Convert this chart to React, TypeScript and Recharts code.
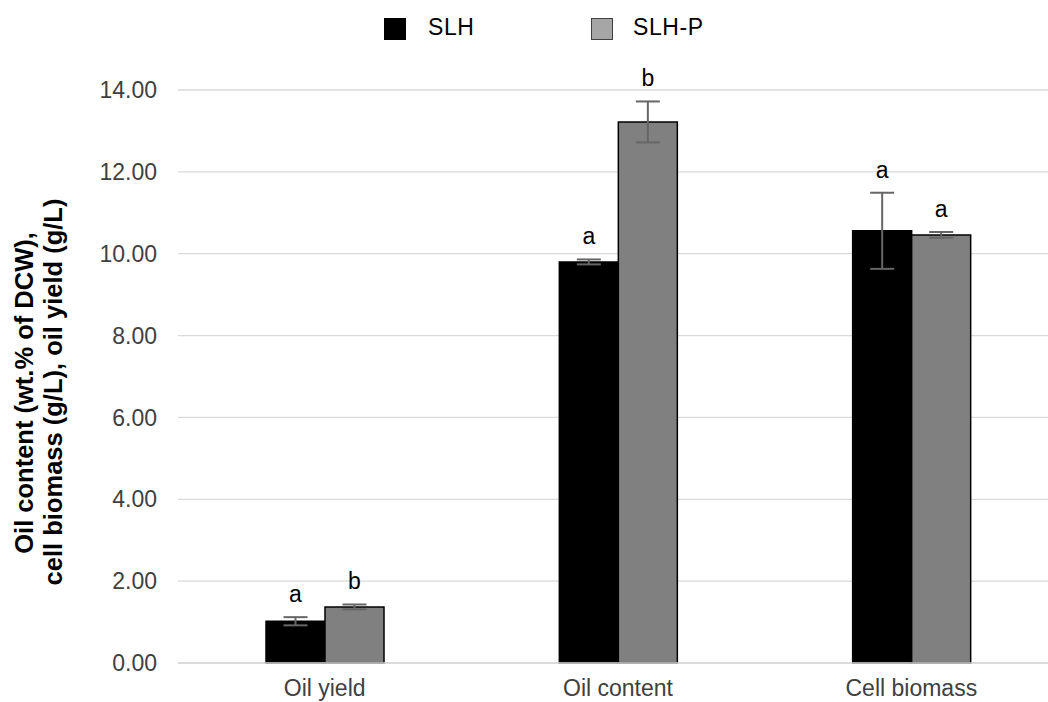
import React from 'react';
import { BarChart, Bar, XAxis, YAxis, CartesianGrid, ErrorBar } from 'recharts';

const categories = ['Oil yield', 'Oil content', 'Cell biomass'];
const slh = [1.02, 9.8, 10.56];
const slhErr = [0.1, 0.06, 0.93];
const slhP = [1.37, 13.22, 10.46];
const slhPErr = [0.06, 0.5, 0.07];
const slhLetters = ['a', 'a', 'a'];
const slhPLetters = ['b', 'b', 'a'];
const yTicks = [0, 2, 4, 6, 8, 10, 12, 14];

const seriesNames = ['SLH', 'SLH-P'];

const FONT = '"Liberation Sans", Arial, sans-serif';

const data = categories.map((name, i) => ({
  name,
  slh: slh[i],
  slhErr: slhErr[i],
  slhP: slhP[i],
  slhPErr: slhPErr[i],
}));

// letter sits a fixed distance above the top of the error bar
function letterLabel(letters: string[], errs: number[]) {
  return (props: any) => {
    const { x, y, width, height, value, index } = props;
    const ppu = value ? height / value : 0;
    const errTop = y - errs[index] * ppu;
    return (
      <text
        key={`lbl-${index}`}
        x={x + width / 2}
        y={errTop - 15}
        textAnchor="middle"
        fontFamily={FONT}
        fontSize={23}
        fill="#000"
      >
        {letters[index]}
      </text>
    );
  };
}

function LegendBox() {
  const items = [
    { name: seriesNames[0], fill: '#000', border: '#000', left: 384, textLeft: 428 },
    { name: seriesNames[1], fill: '#a6a6a6', border: '#404040', left: 591, textLeft: 633 },
  ];
  return (
    <>
      {items.map((it) => (
        <React.Fragment key={it.name}>
          <div
            style={{
              position: 'absolute',
              left: it.left,
              top: 18,
              width: 22,
              height: 22,
              boxSizing: 'border-box',
              background: it.fill,
              border: `1px solid ${it.border}`,
            }}
          />
          <div
            style={{
              position: 'absolute',
              left: it.textLeft,
              top: 14,
              fontFamily: FONT,
              fontSize: 23,
              lineHeight: '26px',
              color: '#000',
              letterSpacing: 0.6,
            }}
          >
            {it.name}
          </div>
        </React.Fragment>
      ))}
    </>
  );
}

export default function App() {
  return (
    <div
      style={{
        position: 'absolute',
        left: 0,
        top: 0,
        width: 1048,
        height: 702,
        overflow: 'hidden',
        background: '#fff',
      }}
    >
      <BarChart
        width={1060}
        height={702}
        data={data}
        margin={{ top: 90, right: 2, bottom: 0, left: 0 }}
        barGap={0}
        barSize={59}
      >
        <CartesianGrid horizontal vertical={false} stroke="#d9d9d9" strokeWidth={1.3} />
        <XAxis
          dataKey="name"
          height={39}
          axisLine={{ stroke: '#d9d9d9', strokeWidth: 1.3 }}
          tickLine={false}
          tickSize={0}
          tickMargin={17}
          tick={{ fontFamily: FONT, fontSize: 23, fill: '#404040' }}
        />
        <YAxis
          width={178}
          domain={[0, 14]}
          ticks={yTicks}
          axisLine={false}
          tickLine={false}
          tickSize={0}
          tickMargin={21}
          tickFormatter={(v: number) => v.toFixed(2)}
          tick={{ fontFamily: FONT, fontSize: 23, fill: '#404040' }}
        />
        <Bar
          dataKey="slh"
          name={seriesNames[0]}
          fill="#000"
          stroke="#000"
          strokeWidth={1.5}
          isAnimationActive={false}
          label={letterLabel(slhLetters, slhErr)}
        >
          <ErrorBar dataKey="slhErr" width={12} stroke="#666" strokeWidth={2} direction="y" isAnimationActive={false} />
        </Bar>
        <Bar
          dataKey="slhP"
          name={seriesNames[1]}
          fill="#808080"
          stroke="#000"
          strokeWidth={1.5}
          isAnimationActive={false}
          label={letterLabel(slhPLetters, slhPErr)}
        >
          <ErrorBar dataKey="slhPErr" width={12} stroke="#666" strokeWidth={2} direction="y" isAnimationActive={false} />
        </Bar>
      </BarChart>
      <LegendBox />
      <svg
        width={100}
        height={702}
        style={{ position: 'absolute', left: 0, top: 0, pointerEvents: 'none' }}
      >
        <text
          x={33}
          y={393}
          transform="rotate(-90, 33, 393)"
          textAnchor="middle"
          fontFamily={FONT}
          fontSize={25.5}
          fontWeight="bold"
          fill="#000"
        >
          Oil content (wt.% of DCW),
        </text>
        <text
          x={62}
          y={392}
          transform="rotate(-90, 62, 392)"
          textAnchor="middle"
          fontFamily={FONT}
          fontSize={25.5}
          fontWeight="bold"
          fill="#000"
        >
          cell biomass (g/L), oil yield (g/L)
        </text>
      </svg>
    </div>
  );
}
